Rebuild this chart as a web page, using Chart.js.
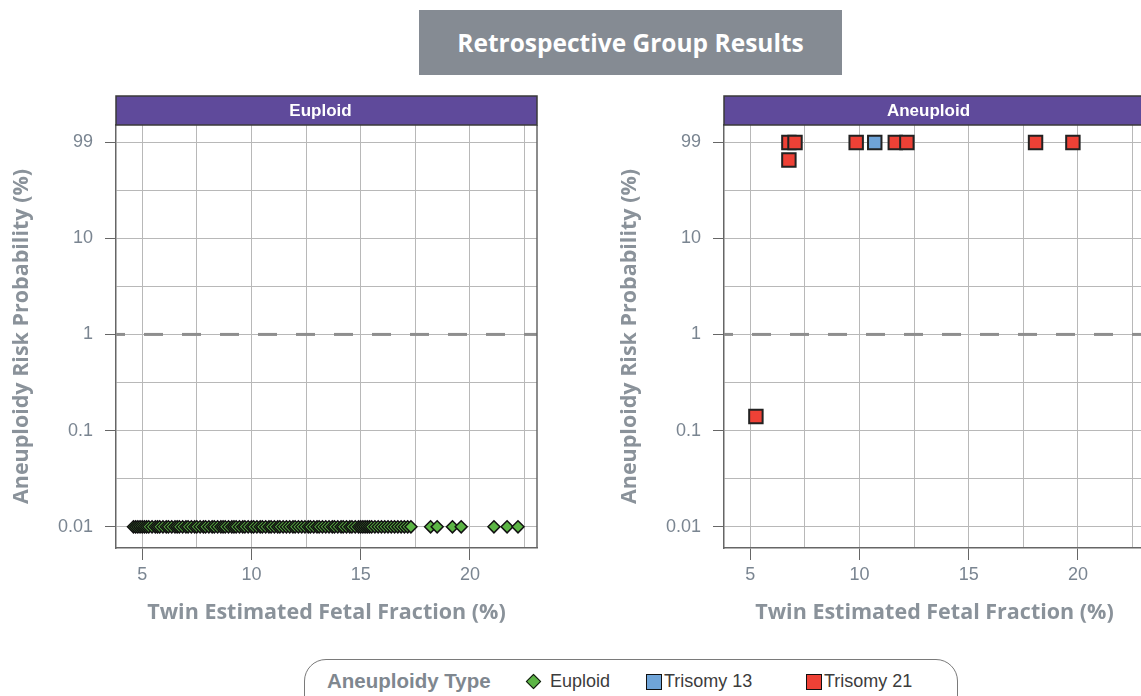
<!DOCTYPE html>
<html>
<head>
<meta charset="utf-8">
<script src="https://cdn.jsdelivr.net/npm/chart.js@4.4.1/dist/chart.umd.min.js"></script>
<style>
  body { margin: 0; width: 1141px; height: 696px; overflow: hidden; background: #fff; position: relative;
         font-family: "Liberation Sans", Arial, sans-serif; }
  #title { position: absolute; left: 419px; top: 10px; width: 423px; height: 65px; background: #858b93;
           color: #fff; font: bold 24.5px "Open Sans", sans-serif; display: flex; align-items: center; justify-content: center; }
  canvas { position: absolute; top: 80px; }
  #left { left: 0; }
  #right { left: 608px; }
  #legend { position: absolute; left: 304px; top: 659px; width: 652px; height: 60px; border: 1.5px solid #7a7a7a;
            border-radius: 22px; }
  #legend span { position: absolute; top: 11px; font-size: 18px; color: #3c3c3c; white-space: nowrap; }
  #legend .head { left: 22px; font-weight: bold; font-size: 20.5px; color: #7f878f; top: 9px; }
  .mk { position: absolute; border: 1.5px solid #111; box-sizing: border-box; }
</style>
</head>
<body>
<div id="title">Retrospective Group Results</div>
<canvas id="left" width="570" height="560"></canvas>
<canvas id="right" width="570" height="560"></canvas>
<div id="legend">
  <span class="head">Aneuploidy Type</span>
  <div class="mk" style="left:223px;top:16px;width:11px;height:11px;background:#5cb545;transform:rotate(45deg);"></div>
  <span style="left:245px;">Euploid</span>
  <div class="mk" style="left:341px;top:14px;width:16px;height:16px;background:#6fa4d8;"></div>
  <span style="left:359px;">Trisomy 13</span>
  <div class="mk" style="left:501px;top:14px;width:16px;height:16px;background:#ee4136;"></div>
  <span style="left:519px;">Trisomy 21</span>
</div>
<script>
// x: twin estimated fetal fraction (%), y: aneuploidy risk probability (%)
const xTicks = [5, 10, 15, 20];
const yTickValues = [0.01, 0.1, 1, 10, 99];
const yTickLabels = ["0.01", "0.1", "1", "10", "99"];
const thresholdPct = 1;

// Euploid panel - every call sits at the 0.01 floor
const euploidFF = [4.6, 4.7, 4.8, 4.9, 5.0, 5.1, 5.2, 5.3, 5.45, 5.6, 5.7, 5.8, 5.95, 6.1, 6.2, 6.35,
  6.5, 6.6, 6.7, 6.85, 7.0, 7.1, 7.25, 7.4, 7.5, 7.65, 7.8, 7.9, 8.05, 8.2, 8.3, 8.45, 8.6, 8.7,
  8.8, 8.95, 9.1, 9.2, 9.3, 9.45, 9.6, 9.7, 9.85, 10.0, 10.1, 10.25, 10.4, 10.5, 10.65, 10.8,
  10.9, 11.05, 11.2, 11.3, 11.45, 11.6, 11.75, 11.9, 12.0, 12.15, 12.3, 12.45, 12.6, 12.7,
  12.85, 13.0, 13.1, 13.25, 13.4, 13.55, 13.7, 13.8, 13.95, 14.1, 14.2, 14.35, 14.5, 14.6,
  14.75, 14.9, 15.0, 15.1, 15.2, 15.3, 15.4, 15.5, 15.65, 15.8, 15.95, 16.1, 16.25, 16.4,
  16.55, 16.7, 16.85, 17.0, 17.15, 17.3, 18.2, 18.5, 19.2, 19.6, 21.1, 21.7, 22.2];
const euploidRisk = 0.01;

// Aneuploid panel
const t13FF = [10.7];
const t13Risk = [99];
const t21FF = [5.26, 6.77, 6.77, 7.05, 9.85, 11.64, 12.17, 18.06, 19.77];
const t21Risk = [0.14, 65, 99, 99, 99, 99, 99, 99, 99];

const GRID = "#b8b8b8";
const AXIS = "#666";
const TICKTXT = "#7a8591";
const TITLETXT = "#8a929a";

const majorY = yTickValues.map(v => Math.log10(v));

function pts(xs, ys) {
  return xs.map((x, i) => ({ x: x, y: Math.log10(Array.isArray(ys) ? ys[i] : ys) }));
}

const panelFrame = {
  id: "panelFrame",
  beforeDatasetsDraw(chart) {
    const { ctx, chartArea: a, scales: { y } } = chart;
    const yy = y.getPixelForValue(Math.log10(thresholdPct));
    ctx.save();
    ctx.strokeStyle = "#8e8e8e";
    ctx.lineWidth = 3;
    ctx.setLineDash([19, 19]);
    ctx.lineDashOffset = 10;
    ctx.beginPath();
    ctx.moveTo(a.left, yy);
    ctx.lineTo(a.right, yy);
    ctx.stroke();
    ctx.restore();
  },
  afterDraw(chart, args, opts) {
    const { ctx, chartArea: a } = chart;
    ctx.save();
    // right border
    ctx.strokeStyle = AXIS;
    ctx.lineWidth = 1.5;
    ctx.beginPath();
    ctx.moveTo(a.right, a.top);
    ctx.lineTo(a.right, a.bottom);
    ctx.stroke();
    // strip header
    ctx.fillStyle = "#5f4a9b";
    ctx.fillRect(a.left, a.top - 29, a.right - a.left, 29);
    ctx.strokeStyle = "#3a3a3a";
    ctx.strokeRect(a.left, a.top - 29, a.right - a.left, 29);
    ctx.fillStyle = "#fff";
    ctx.font = "bold 17px 'Liberation Sans', Arial, sans-serif";
    ctx.textAlign = "center";
    ctx.textBaseline = "middle";
    ctx.fillText(opts.text, (a.left + a.right) / 2 - 6, a.top - 14);
    ctx.restore();
  }
};

function makePanel(id, stripText, datasets) {
  return new Chart(document.getElementById(id), {
    type: "scatter",
    data: { datasets: datasets },
    options: {
      responsive: false,
      animation: false,
      layout: { padding: { top: 45, right: 33 } },
      plugins: {
        legend: { display: false },
        tooltip: { enabled: false },
        panelFrame: { text: stripText }
      },
      scales: {
        x: {
          type: "linear",
          min: 3.8,
          max: 23.07,
          afterBuildTicks: s => {
            const t = [];
            for (let v = xTicks[0]; v <= s.max; v += 2.5) t.push({ value: v });
            s.ticks = t;
          },
          afterFit: s => { s.height = 92; },
          grid: {
            color: GRID,
            tickLength: 12,
            tickColor: c => xTicks.includes(c.tick && c.tick.value) ? AXIS : "rgba(0,0,0,0)"
          },
          border: { color: AXIS, width: 1.5 },
          ticks: {
            padding: 4,
            color: TICKTXT,
            font: { size: 18, family: "'Liberation Sans', Arial, sans-serif" },
            maxRotation: 0,
            autoSkip: false,
            callback: v => xTicks.includes(v) ? String(v) : ""
          },
          title: {
            display: true,
            text: "Twin Estimated Fetal Fraction (%)",
            color: TITLETXT,
            font: { size: 21.5, weight: "bold", family: "'Open Sans', sans-serif" },
            padding: { top: 0, bottom: 14 }
          }
        },
        y: {
          type: "linear",
          min: -2.22,
          max: 2.177,
          afterBuildTicks: s => {
            const t = [];
            majorY.forEach((v, i) => {
              t.push({ value: v });
              if (i < majorY.length - 1) t.push({ value: (v + majorY[i + 1]) / 2 });
            });
            s.ticks = t;
          },
          afterFit: s => { s.width = 116; },
          grid: {
            color: GRID,
            tickLength: 11,
            tickColor: c => majorY.some(m => c.tick && Math.abs(m - c.tick.value) < 1e-6) ? AXIS : "rgba(0,0,0,0)"
          },
          border: { color: AXIS, width: 1.5 },
          ticks: {
            padding: 12,
            color: TICKTXT,
            font: { size: 18, family: "'Liberation Sans', Arial, sans-serif" },
            autoSkip: false,
            callback: v => {
              const i = majorY.findIndex(m => Math.abs(m - v) < 1e-6);
              return i >= 0 ? yTickLabels[i] : "";
            }
          },
          title: {
            display: true,
            text: "Aneuploidy Risk Probability (%)",
            color: TITLETXT,
            font: { size: 21.5, weight: "bold", family: "'Open Sans', sans-serif" },
            padding: { top: 9, bottom: 0 }
          }
        }
      }
    },
    plugins: [panelFrame]
  });
}

makePanel("left", "Euploid", [
  {
    label: "Euploid",
    data: pts(euploidFF, euploidRisk),
    pointStyle: "rectRot",
    pointRadius: 6,
    backgroundColor: "#5cb545",
    borderColor: "#111",
    borderWidth: 1.5
  }
]);

makePanel("right", "Aneuploid", [
  {
    label: "Trisomy 21",
    data: pts(t21FF, t21Risk),
    pointStyle: "rect",
    pointRadius: 9.5,
    backgroundColor: "#ee4136",
    borderColor: "#222",
    borderWidth: 2
  },
  {
    label: "Trisomy 13",
    data: pts(t13FF, t13Risk),
    pointStyle: "rect",
    pointRadius: 9.5,
    backgroundColor: "#6fa4d8",
    borderColor: "#222",
    borderWidth: 2
  }
]);
</script>
</body>
</html>
